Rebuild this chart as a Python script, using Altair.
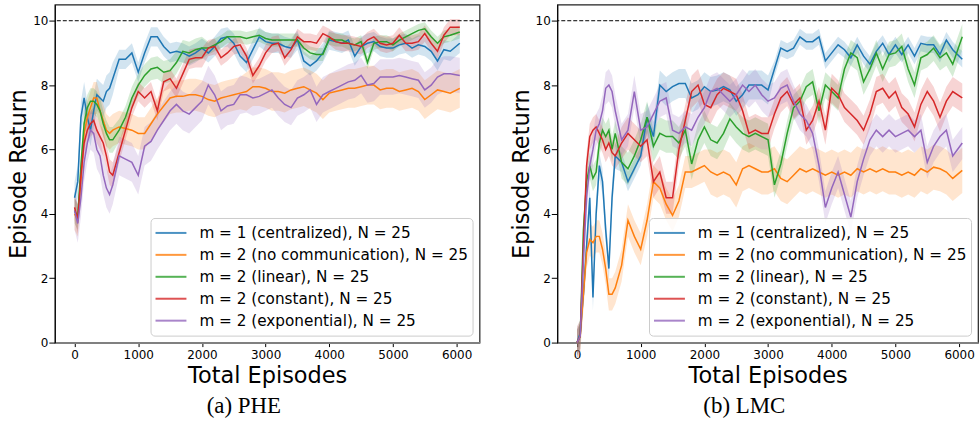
import altair as alt
import pandas as pd

# ---------------- data ----------------
X_GRID = [0, 50, 100, 150, 200, 250, 300, 350, 400, 450, 500, 550, 600] + list(range(700, 6000, 100)) + [6050]

SERIES = [
    "m = 1 (centralized), N = 25",
    "m = 2 (no communication), N = 25",
    "m = 2 (linear), N = 25",
    "m = 2 (constant), N = 25",
    "m = 2 (exponential), N = 25",
]
COLORS = ["#1f77b4", "#ff7f0e", "#2ca02c", "#d62728", "#9467bd"]
REF_LINE = [10]
X_TICKS = [0, 1000, 2000, 3000, 4000, 5000, 6000]
Y_TICKS = [0, 2, 4, 6, 8, 10]

# ---- (a) PHE ----
PHE_CENTRAL = [4.5, 5.0, 7.0, 7.6, 7.0, 6.6, 7.2, 7.7, 7.6, 7.5, 7.8, 7.9, 8.2,
               8.8, 8.8, 9.0, 8.4,
               9.0, 9.5, 9.5, 9.2, 9.0, 9.05, 9.0, 8.9, 9.0, 9.15,
               9.0, 9.2, 9.45, 9.5, 9.3, 8.9, 8.7, 9.1, 9.5, 9.35,
               9.3, 9.3, 9.2, 9.15, 9.4, 8.75, 8.6, 8.75, 9.0, 9.4,
               9.35, 9.3, 9.4, 8.9, 9.2, 9.3, 9.35, 9.2, 9.15, 9.15,
               9.25, 9.3, 9.15, 9.25, 9.2, 9.05, 8.75, 9.1, 9.05,
               9.3]
PHE_NOCOMM = [4.0, 3.8, 5.0, 6.5, 7.0, 7.3, 7.6, 7.6, 7.2, 6.9, 6.6, 6.5, 6.6,
              6.7, 6.65, 6.6, 6.5,
              6.5, 6.8, 7.1, 7.35, 7.6, 7.65, 7.65, 7.7, 7.7, 7.65,
              7.55, 7.5, 7.6, 7.65, 7.7, 7.75, 7.8, 7.95, 7.95, 7.9,
              7.8, 7.8, 7.75, 7.85, 7.9, 7.95, 7.85, 7.75, 7.55, 7.75,
              7.8, 7.85, 7.9, 7.9, 7.95, 8.0, 8.0, 7.85, 7.9, 7.9,
              7.8, 7.85, 7.9, 7.8, 7.55, 7.7, 7.85, 7.8, 7.75,
              7.9]
PHE_LINEAR = [4.1, 3.9, 5.5, 6.8, 7.3, 7.5, 7.5, 7.4, 7.2, 6.8, 6.5, 6.3, 6.3,
              6.6, 7.0, 7.6, 8.0,
              8.3, 8.5, 8.55, 8.4, 8.45, 8.7, 9.05, 9.0, 9.1, 9.15,
              9.15, 9.25, 9.35, 9.5, 9.5, 9.5, 9.45, 9.5, 9.55, 9.45,
              9.4, 9.4, 9.4, 9.4, 9.4, 9.15, 9.0, 8.95, 8.95, 9.45,
              9.4, 9.4, 9.3, 9.25, 9.35, 8.7, 9.3, 9.35, 9.35, 9.25,
              9.4, 9.5, 9.6, 9.7, 9.75, 9.5, 9.3, 9.5, 9.55,
              9.65]
PHE_CONST = [4.2, 3.8, 5.2, 6.2, 6.6, 6.8, 6.9, 6.6, 6.4, 6.2, 5.8, 5.3, 5.2,
             5.9, 6.6, 7.3, 7.8,
             7.6, 7.8, 7.2, 8.1, 8.2, 7.9, 8.35, 8.8, 8.85, 8.85,
             9.15, 9.2, 8.85, 9.0, 9.2, 9.25, 8.9, 8.3, 8.6, 9.0,
             9.25, 9.3, 8.85, 9.1, 9.5, 9.35, 9.35, 9.3, 9.6, 9.5,
             9.35, 9.3, 9.3, 9.25, 9.2, 9.4, 9.5, 9.3, 9.25, 9.3,
             9.55, 9.3, 9.3, 9.35, 9.6, 9.3, 9.05, 9.55, 9.8,
             9.8]
PHE_EXP = [4.1, 3.7, 4.5, 5.6, 6.2, 6.6, 6.5, 6.0, 5.8, 5.2, 4.8, 4.6, 4.9,
           5.8, 5.7, 5.6, 5.2,
           6.1, 6.25, 6.6, 6.9, 7.2, 7.4, 7.2, 7.1, 7.3, 7.5,
           8.0, 7.7, 7.2, 7.35, 7.4, 7.7, 7.7, 7.6, 7.65, 7.75,
           7.85, 7.6, 7.4, 7.3, 7.6, 7.7, 7.85, 7.4, 7.7, 7.8,
           7.9, 8.0, 8.1, 8.15, 8.3, 8.0, 8.05, 8.25, 8.25, 8.25,
           8.3, 8.25, 8.2, 8.15, 7.85, 8.0, 8.25, 8.35, 8.35,
           8.3]
PHE_BAND_CENTRAL = [0.5] * 13 + [0.3] * 54
PHE_BAND_NOCOMM = [0.5] * 13 + [0.5] * 20 + [0.6] * 34
PHE_BAND_LINEAR = [0.4] * 13 + [0.35] * 14 + [0.2] * 40
PHE_BAND_CONST = [0.4] * 13 + [0.3] * 14 + [0.25] * 40
PHE_BAND_EXP = [0.6] * 13 + [0.6] * 20 + [0.55] * 34

# ---- (b) LMC ----
LMC_CENTRAL = [0.0, 0.3, 1.5, 3.0, 4.5, 1.4, 4.0, 5.5, 5.0, 3.5, 2.3, 4.5, 5.8,
               5.6, 5.0, 5.4, 5.8,
               7.0, 6.4, 8.0, 7.8, 7.95, 8.05, 8.05, 7.6, 7.7, 7.95,
               7.8, 7.85, 7.95, 7.85, 7.5, 7.7, 8.0, 8.0, 8.0, 7.85,
               8.5, 9.15, 9.05, 9.15, 9.5, 9.35, 9.35, 9.5, 8.75, 9.0,
               9.25, 9.1, 8.85, 9.25, 8.9, 8.65, 9.05, 9.3, 8.95, 9.25,
               8.95, 9.25, 8.9, 9.3, 9.25, 9.25, 8.95, 9.4, 9.1,
               8.8]
LMC_NOCOMM = [0.0, 0.2, 1.5, 2.8, 3.2, 3.1, 3.3, 3.3, 2.9, 2.3, 1.5, 1.5, 1.7,
              2.4, 3.8, 3.3, 2.9,
              3.8, 5.0, 4.8, 4.3, 3.95, 4.4, 5.3, 5.3, 5.4, 5.5,
              5.3, 5.2, 5.3, 5.2, 4.9, 5.4, 5.5, 5.4, 5.3, 5.3,
              5.4, 5.1, 5.0, 5.2, 5.4, 5.3, 5.4, 5.3, 5.2, 5.3,
              5.2, 5.3, 5.2, 5.4, 5.3, 5.4, 5.3, 5.4, 5.3, 5.3,
              5.2, 5.3, 5.2, 5.4, 5.3, 5.45, 5.4, 5.3, 5.1,
              5.35]
LMC_LINEAR = [0.0, 0.2, 3.5, 5.0, 5.5, 5.1, 5.3, 6.2, 6.6, 6.4, 6.6, 6.0, 6.5,
              5.6, 5.4, 5.8, 6.3,
              7.0, 6.1, 6.5, 6.4, 6.4, 6.2, 6.6, 5.55, 6.3, 6.7,
              6.3, 6.2, 6.5, 6.95, 6.7, 6.5, 6.4, 6.5, 6.4, 6.3,
              4.9, 5.55, 6.5, 7.3, 7.5, 7.95, 8.1, 7.2, 8.0, 7.8,
              7.6, 8.5, 9.0, 8.85, 8.1, 8.5, 9.0, 8.5, 8.95, 9.0,
              9.2, 8.5, 8.0, 8.85, 8.95, 9.15, 8.85, 9.0, 8.65,
              9.5]
LMC_CONST = [0.0, 0.2, 3.0, 5.5, 6.4, 6.6, 6.7, 6.5, 6.3, 6.0, 6.2, 5.9, 5.8,
             6.2, 6.5, 6.3, 6.1,
             6.3, 5.0, 5.3, 4.5, 4.5, 6.0, 6.9, 7.8, 8.0, 7.4,
             7.3, 7.7, 7.9, 7.8, 7.7, 7.2, 6.5, 6.6, 6.5, 6.5,
             7.1, 7.6, 7.8, 7.4, 7.6, 6.6, 6.9, 7.5, 6.6, 7.9,
             7.7, 7.3, 7.1, 6.9, 6.6, 7.1, 7.8, 7.9, 7.6, 7.8,
             7.3, 7.1, 6.7, 7.4, 7.8, 7.5, 7.0, 7.5, 7.8,
             7.6]
LMC_EXP = [0.0, 0.2, 2.5, 4.5, 5.5, 6.0, 6.6, 6.8, 7.2, 7.9, 8.0, 7.8, 7.2,
           6.3, 6.6, 7.8, 6.6,
           6.7, 7.1, 7.5, 7.6, 6.6, 6.5, 6.7, 6.6, 7.0, 7.3,
           7.8, 7.9, 7.7, 7.5, 7.7, 8.0, 7.8, 8.0, 7.7, 7.5,
           7.6, 7.9, 8.0, 7.5, 7.1, 6.9, 6.5, 5.5, 4.2, 4.8,
           5.3, 4.6, 3.9, 5.0, 5.7, 6.3, 6.6, 6.4, 6.6, 6.4,
           6.5, 6.6, 6.4, 6.6, 5.6, 6.1, 6.4, 6.6, 5.8,
           6.2]
LMC_BAND_CENTRAL = [0.4] * 13 + [0.3] * 4 + [0.45] * 20 + [0.25] * 30
LMC_BAND_NOCOMM = [0.5] * 13 + [0.5] * 14 + [0.7] * 40
LMC_BAND_LINEAR = [0.4] * 13 + [0.5] * 24 + [0.4] * 30
LMC_BAND_CONST = [0.4] * 13 + [0.5] * 24 + [0.45] * 30
LMC_BAND_EXP = [0.5] * 13 + [0.5] * 54

PANELS = [
    ("(a) PHE", [PHE_CENTRAL, PHE_NOCOMM, PHE_LINEAR, PHE_CONST, PHE_EXP],
     [PHE_BAND_CENTRAL, PHE_BAND_NOCOMM, PHE_BAND_LINEAR, PHE_BAND_CONST, PHE_BAND_EXP],
     426, 6360),
    ("(b) LMC", [LMC_CENTRAL, LMC_NOCOMM, LMC_LINEAR, LMC_CONST, LMC_EXP],
     [LMC_BAND_CENTRAL, LMC_BAND_NOCOMM, LMC_BAND_LINEAR, LMC_BAND_CONST, LMC_BAND_EXP],
     422, 6297),
]

FONT = "DejaVu Sans"


def make_df(means, bands):
    rows = []
    for k, (name, col, m, b) in enumerate(zip(SERIES, COLORS, means, bands)):
        assert len(m) == len(X_GRID), (name, len(m))
        assert len(b) == len(X_GRID), (name, len(b))
        for x, y, h in zip(X_GRID, m, b):
            rows.append({"x": x, "y": y, "lo": y - h, "hi": y + h,
                         "series": name, "col": col, "k": k})
    return pd.DataFrame(rows)


def panel(caption, means, bands, width, xmax):
    df = make_df(means, bands)
    xscale = alt.Scale(domain=[-310, xmax], nice=False, zero=False)
    yscale = alt.Scale(domain=[0, 10.5], nice=False, zero=False)
    xaxis = alt.Axis(values=X_TICKS, title="Total Episodes", format="d",
                     domainColor="#808080", domainWidth=2, tickSize=4,
                     labelPadding=3, titlePadding=4)
    yaxis = alt.Axis(values=Y_TICKS, title="Episode Return", format="d",
                     tickSize=6, labelPadding=1, titlePadding=2)
    base = alt.Chart(df)
    band = base.mark_area(opacity=0.2, interpolate="linear").encode(
        x=alt.X("x:Q", scale=xscale, axis=xaxis),
        y=alt.Y("lo:Q", scale=yscale, axis=yaxis, stack=None),
        y2="hi:Q",
        fill=alt.Fill("col:N", scale=None),
        detail="series:N",
    )
    lines = base.mark_line(strokeWidth=1.5).encode(
        x=alt.X("x:Q", scale=xscale),
        y=alt.Y("y:Q", scale=yscale),
        color=alt.Color("series:N",
                        scale=alt.Scale(domain=SERIES, range=COLORS),
                        legend=alt.Legend(
                            title=None, orient="bottom-right", offset=7,
                            fillColor="rgba(255,255,255,0.85)",
                            strokeColor="#cccccc", cornerRadius=4,
                            padding=4, symbolType="stroke",
                            symbolSize=961, symbolStrokeWidth=2,
                            symbolOpacity=0.8, clipHeight=22,
                            labelFont=FONT, labelFontSize=15.3,
                            labelColor="black", labelOffset=12,
                            rowPadding=0, labelLimit=400)),
    )
    ref = alt.Chart(pd.DataFrame({"r": REF_LINE})).mark_rule(
        color="black", strokeDash=[4, 2], strokeWidth=1
    ).encode(y=alt.Y("r:Q", scale=yscale))
    return alt.layer(band, lines, ref).properties(
        width=width, height=339,
        title=alt.TitleParams(caption, orient="bottom", anchor="middle",
                              frame="bounds", font="Liberation Serif",
                              fontSize=23, fontWeight="normal",
                              color="black", offset=8),
    )


chart = alt.hconcat(
    *[panel(c, m, b, w, xm) for c, m, b, w, xm in PANELS], spacing=28
).resolve_scale(color="independent").properties(
    padding={"left": 7, "top": 3, "right": 0, "bottom": 0}
).configure_view(
    stroke="#222222", strokeWidth=1.2
).configure_axis(
    grid=False, labelFont=FONT, labelFontSize=12, labelColor="black",
    titleFont=FONT, titleFontSize=22.5, titleFontWeight="normal",
    titleColor="black", tickColor="black", domainColor="black",
)

chart.save("out.html", embed_options={"renderer": "svg", "actions": False})
